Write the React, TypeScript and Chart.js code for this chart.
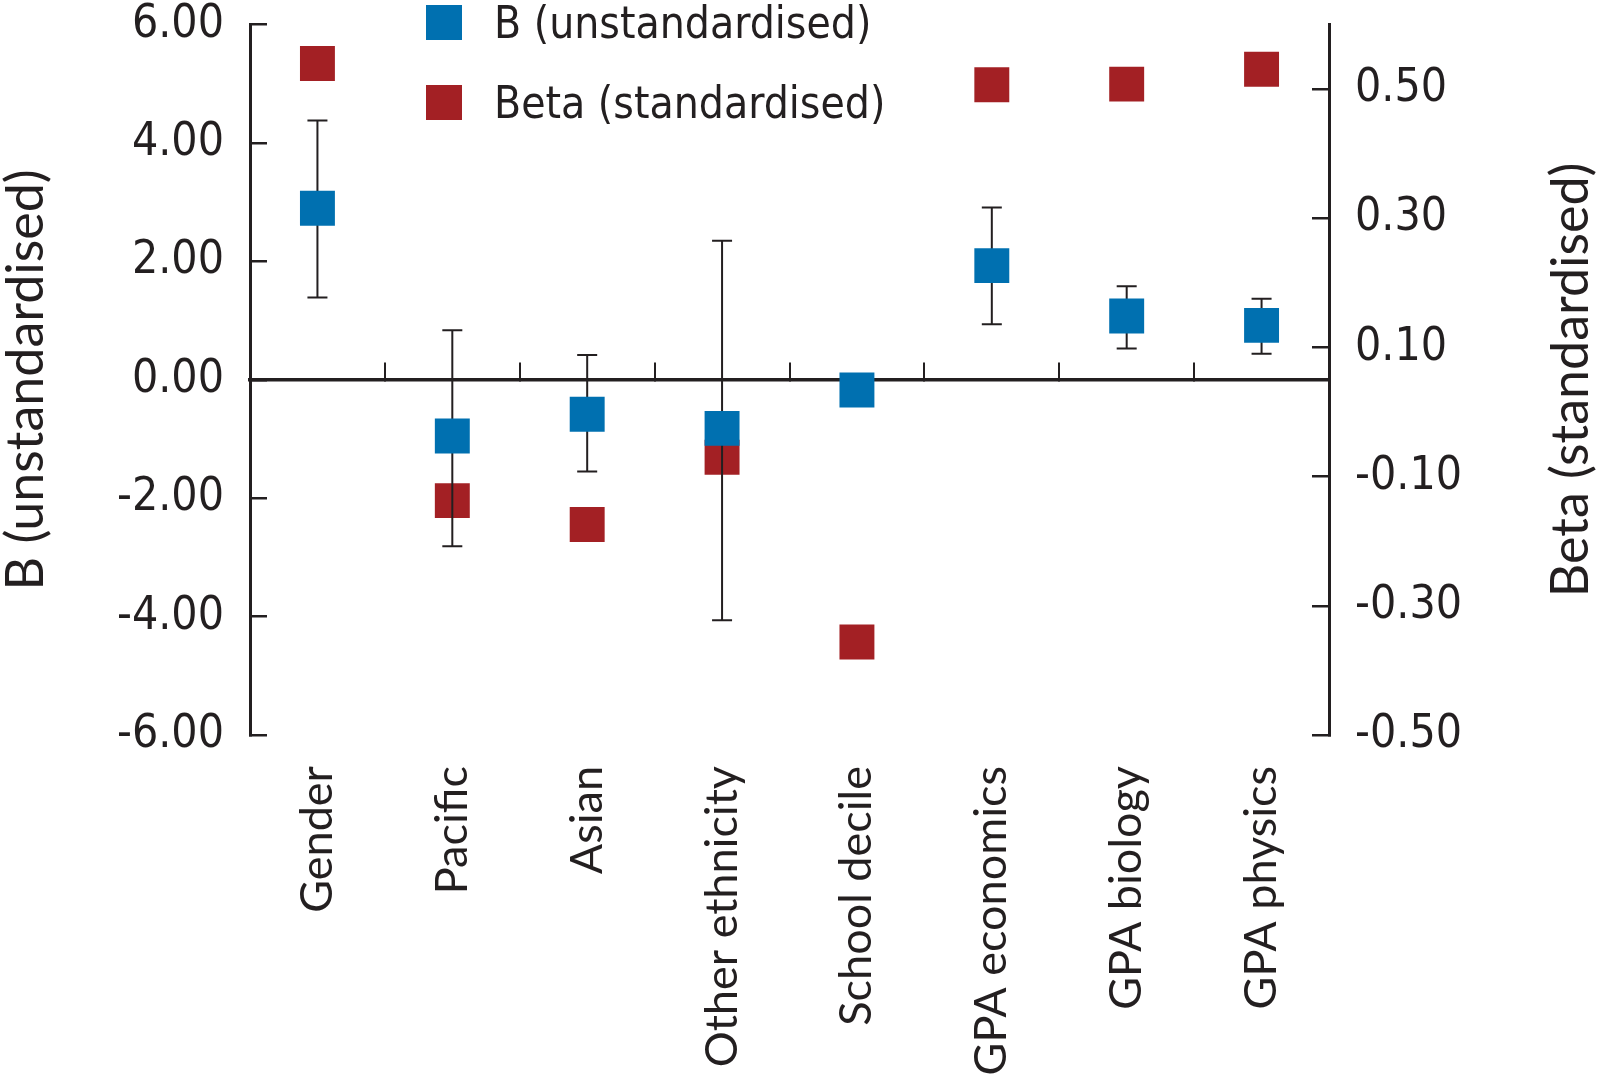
import React, { useEffect, useRef } from 'react';
import { Chart, registerables } from 'chart.js';

Chart.register(...registerables);

// ---- data ----
const categories = ['Gender', 'Pacific', 'Asian', 'Other ethnicity', 'School decile', 'GPA economics', 'GPA biology', 'GPA physics'];
const bValues = [2.9, -0.95, -0.58, -0.82, -0.17, 1.93, 1.08, 0.92];
const bLower: (number | null)[] = [1.39, -2.81, -1.55, -4.06, null, 0.94, 0.53, 0.44];
const bUpper: (number | null)[] = [4.38, 0.84, 0.42, 2.35, null, 2.91, 1.58, 1.37];
const betaValues = [0.54, -0.137, -0.174, -0.07, -0.356, 0.507, 0.508, 0.531];
const leftTicks = [-6, -4, -2, 0, 2, 4, 6];
const rightTicks = [-0.5, -0.3, -0.1, 0.1, 0.3, 0.5];
const seriesNames = ['B (unstandardised)', 'Beta (standardised)'];
const leftTitle = 'B (unstandardised)';
const rightTitle = 'Beta (standardised)';

// ---- styles ----
const BLUE = '#0070b0';
const RED = '#a32024';
const INK = '#231f20';
const COND = "'Liberation Sans Narrow', 'DejaVu Sans Condensed', Lato, sans-serif";
const REG = "Lato, 'Liberation Sans', sans-serif";

const errorBarPlugin = {
  id: 'errorBars',
  beforeDatasetDraw(chart: any, args: any) {
    if (args.index !== 0) return;
    const xs = chart.scales.x;
    const ys = chart.scales.y;
    const ctx = chart.ctx;
    ctx.save();
    ctx.strokeStyle = INK;
    ctx.lineWidth = 2;
    const cap = 10;
    categories.forEach((_, i) => {
      const lo = bLower[i];
      const hi = bUpper[i];
      if (lo == null || hi == null) return;
      const px = xs.getPixelForValue(i);
      const yl = ys.getPixelForValue(lo);
      const yh = ys.getPixelForValue(hi);
      ctx.beginPath();
      ctx.moveTo(px, yl);
      ctx.lineTo(px, yh);
      ctx.moveTo(px - cap, yl);
      ctx.lineTo(px + cap, yl);
      ctx.moveTo(px - cap, yh);
      ctx.lineTo(px + cap, yh);
      ctx.stroke();
    });
    ctx.restore();
  },
};

const rightTitlePlugin = {
  id: 'rightTitle',
  afterDraw(chart: any) {
    const s = chart.scales.y1;
    const ctx = chart.ctx;
    const area = chart.chartArea;
    ctx.save();
    ctx.translate(s.right - 27, (area.top + area.bottom) / 2);
    ctx.rotate(-Math.PI / 2);
    ctx.font = `52px ${REG}`;
    ctx.fillStyle = INK;
    ctx.textAlign = 'center';
    ctx.textBaseline = 'middle';
    ctx.fillText(rightTitle, 0, 0);
    ctx.restore();
  },
};

export default function App() {
  const ref = useRef<HTMLCanvasElement>(null);

  useEffect(() => {
    const canvas = ref.current;
    if (!canvas) return;
    const chart = new Chart(canvas, {
      type: 'line',
      data: {
        labels: categories,
        datasets: [
          {
            label: seriesNames[0],
            data: bValues,
            yAxisID: 'y',
            xAxisID: 'x',
            showLine: false,
            pointStyle: 'rect',
            pointRadius: 24.7,
            pointHoverRadius: 24.7,
            pointBorderWidth: 0,
            pointBackgroundColor: BLUE,
            backgroundColor: BLUE,
            borderColor: BLUE,
            clip: false,
          },
          {
            label: seriesNames[1],
            data: betaValues,
            yAxisID: 'y1',
            xAxisID: 'x',
            showLine: false,
            pointStyle: 'rect',
            pointRadius: 24.7,
            pointHoverRadius: 24.7,
            pointBorderWidth: 0,
            pointBackgroundColor: RED,
            backgroundColor: RED,
            borderColor: RED,
            clip: false,
          },
        ],
      } as any,
      options: {
        responsive: false,
        animation: false,
        devicePixelRatio: 1,
        events: [],
        layout: { padding: { top: 21, left: 0, right: 0, bottom: 0 } },
        plugins: { legend: { display: false }, tooltip: { enabled: false } },
        scales: {
          x: {
            type: 'category',
            position: 'bottom',
            offset: true,
            grid: { display: false },
            border: { display: false },
            ticks: {
              minRotation: 90,
              maxRotation: 90,
              autoSkip: false,
              padding: 23,
              color: INK,
              font: { family: REG, size: 45 },
            },
            afterFit: (s: any) => { s.height = 340; },
          },
          x2: {
            type: 'category',
            position: { y: 0 },
            offset: true,
            grid: { offset: true, drawOnChartArea: false, drawTicks: true, tickLength: -19, color: INK, lineWidth: 2 },
            border: { display: true, color: INK, width: 3.5 },
            ticks: { display: false },
          },
          y: {
            type: 'linear',
            position: 'left',
            min: -6,
            max: 6,
            afterBuildTicks: (s: any) => { s.ticks = leftTicks.map((v) => ({ value: v })); },
            grid: { drawOnChartArea: false, tickLength: -17, color: INK, lineWidth: 2.5 },
            border: { color: INK, width: 3 },
            ticks: {
              padding: 43,
              autoSkip: false,
              color: INK,
              font: { family: COND, size: 46 },
              callback: (v: any) => Number(v).toFixed(2),
            },
            title: { display: true, text: leftTitle, padding: 0, color: INK, font: { family: REG, size: 52, lineHeight: 1.0 } },
            afterFit: (s: any) => { s.width = 250; s.paddingTop = 0; s.paddingBottom = 0; },
          },
          y1: {
            type: 'linear',
            position: 'right',
            min: -0.5,
            max: 0.6,
            afterBuildTicks: (s: any) => { s.ticks = rightTicks.map((v) => ({ value: v })); },
            grid: { drawOnChartArea: false, tickLength: -17, color: INK, lineWidth: 2.5 },
            border: { color: INK, width: 3 },
            ticks: {
              padding: 43,
              autoSkip: false,
              color: INK,
              font: { family: COND, size: 46 },
              callback: (v: any) => Number(v).toFixed(2),
            },
            afterFit: (s: any) => { s.width = 269; s.paddingTop = 0; s.paddingBottom = 0; },
          },
        },
      } as any,
      plugins: [errorBarPlugin, rightTitlePlugin],
    });
    return () => chart.destroy();
  }, []);

  const legendColors = [BLUE, RED];
  const legendTops = [5, 85];

  return (
    <div style={{ position: 'fixed', left: 0, top: 0, width: 1598, height: 1075, background: '#fff' }}>
      <canvas ref={ref} width={1598} height={1075} style={{ display: 'block' }} />
      {seriesNames.map((name, i) => (
        <div
          key={name}
          style={{
            position: 'absolute',
            left: 426,
            top: legendTops[i],
            height: 35,
            display: 'flex',
            alignItems: 'center',
            whiteSpace: 'nowrap',
          }}
        >
          <div style={{ width: 36, height: 35, background: legendColors[i] }} />
          <span style={{ marginLeft: 32, fontFamily: COND, fontSize: 44, color: INK, lineHeight: '35px' }}>{name}</span>
        </div>
      ))}
    </div>
  );
}
